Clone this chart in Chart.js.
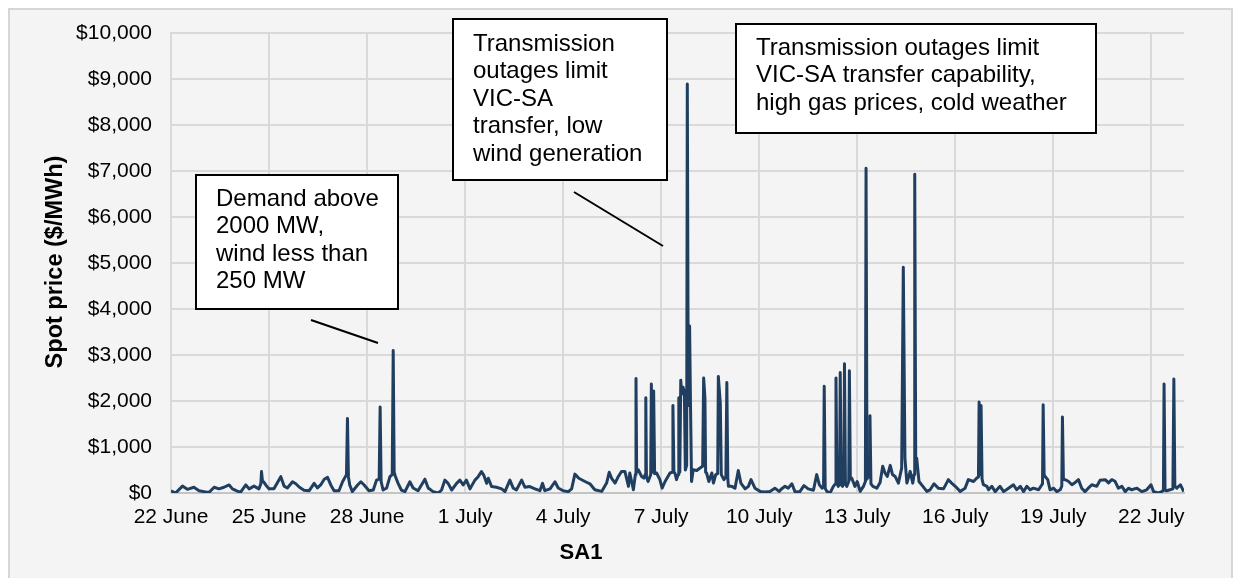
<!DOCTYPE html>
<html>
<head>
<meta charset="utf-8">
<script src="https://cdn.jsdelivr.net/npm/chart.js@4/dist/chart.umd.min.js"></script>
<style>
  html, body { margin: 0; padding: 0; background: #fff; }
  #wrap { width: 1233px; height: 578px; position: relative; }
</style>
</head>
<body>
<div id="wrap"><canvas id="c" width="1233" height="578"></canvas></div>
<script>
// days since 22 June (00:00)
const days = [
  0.00, 0.14, 0.35, 0.50, 0.70, 0.86, 1.01, 1.16, 1.32, 1.47, 1.62, 1.78, 1.88, 2.03, 2.13, 2.29, 2.39, 2.54, 2.69, 2.75,
  2.77, 2.80, 2.83, 2.90, 3.00, 3.15, 3.36, 3.46, 3.56, 3.72, 3.82, 3.92, 4.07, 4.23, 4.38, 4.48, 4.58, 4.69, 4.79, 4.89,
  4.99, 5.14, 5.25, 5.37, 5.40, 5.43, 5.47, 5.55, 5.71, 5.81, 5.91, 6.06, 6.19, 6.29, 6.37, 6.40, 6.43, 6.49, 6.60, 6.70,
  6.77, 6.80, 6.83, 6.85, 6.95, 7.05, 7.16, 7.31, 7.41, 7.56, 7.77, 7.87, 8.02, 8.18, 8.28, 8.38, 8.48, 8.59, 8.74, 8.84,
  8.94, 9.04, 9.15, 9.30, 9.40, 9.50, 9.57, 9.66, 9.71, 9.81, 9.96, 10.12, 10.22, 10.37, 10.47, 10.57, 10.73, 10.83, 10.98, 11.14,
  11.29, 11.37, 11.44, 11.60, 11.75, 11.85, 12.00, 12.16, 12.26, 12.36, 12.48, 12.67, 12.82, 12.97, 13.18, 13.33, 13.41, 13.48, 13.59, 13.69,
  13.79, 13.89, 14.00, 14.04, 14.15, 14.21, 14.23, 14.25, 14.30, 14.40, 14.47, 14.51, 14.53, 14.55, 14.60, 14.68, 14.70, 14.73, 14.77, 14.80,
  14.86, 14.96, 15.03, 15.12, 15.27, 15.34, 15.36, 15.39, 15.42, 15.47, 15.52, 15.54, 15.57, 15.60, 15.63, 15.67, 15.71, 15.74, 15.78, 15.80,
  15.83, 15.87, 15.90, 15.93, 15.98, 16.09, 16.19, 16.27, 16.30, 16.34, 16.36, 16.39, 16.46, 16.55, 16.60, 16.67, 16.73, 16.75, 16.81, 16.84,
  16.92, 16.98, 17.01, 17.04, 17.06, 17.16, 17.26, 17.36, 17.44, 17.57, 17.67, 17.75, 17.87, 18.03, 18.18, 18.33, 18.48, 18.61, 18.70, 18.79,
  18.89, 19.00, 19.10, 19.25, 19.37, 19.50, 19.66, 19.76, 19.84, 19.93, 19.97, 19.99, 20.02, 20.07, 20.17, 20.27, 20.33, 20.35, 20.38, 20.42,
  20.46, 20.48, 20.51, 20.55, 20.59, 20.61, 20.64, 20.68, 20.74, 20.76, 20.79, 20.83, 20.93, 21.00, 21.09, 21.19, 21.25, 21.27, 21.30, 21.34,
  21.37, 21.39, 21.42, 21.48, 21.60, 21.70, 21.78, 21.85, 21.92, 22.01, 22.08, 22.16, 22.26, 22.36, 22.41, 22.46, 22.52, 22.62, 22.70, 22.74,
  22.76, 22.79, 22.82, 22.89, 23.01, 23.13, 23.23, 23.35, 23.48, 23.64, 23.79, 23.89, 24.00, 24.15, 24.30, 24.40, 24.56, 24.66, 24.71, 24.73,
  24.76, 24.79, 24.82, 24.86, 24.97, 25.02, 25.12, 25.22, 25.37, 25.48, 25.63, 25.78, 25.88, 25.99, 26.09, 26.19, 26.29, 26.39, 26.55, 26.65,
  26.67, 26.69, 26.72, 26.75, 26.83, 26.90, 27.01, 27.11, 27.21, 27.26, 27.28, 27.31, 27.36, 27.46, 27.57, 27.67, 27.77, 27.87, 27.97, 28.07,
  28.18, 28.33, 28.43, 28.59, 28.69, 28.79, 28.89, 28.99, 29.10, 29.20, 29.30, 29.40, 29.56, 29.71, 29.86, 29.99, 30.07, 30.22, 30.32, 30.37,
  30.39, 30.42, 30.47, 30.57, 30.66, 30.69, 30.72, 30.78, 30.89, 30.99
];

// SA1 spot price, $/MWh
const prices = [
  45, 0, 150, 80, 125, 50, 30, 10, 125, 90, 125, 175, 90, 40, 20, 175, 90, 150, 90, 200,
  465, 250, 245, 175, 90, 90, 355, 150, 110, 245, 200, 130, 60, 50, 210, 110, 175, 300, 340, 175,
  50, 50, 245, 400, 1620, 350, 175, 30, 175, 245, 175, 50, 65, 280, 300, 1870, 250, 65, 110, 355,
  400, 3100, 420, 390, 210, 65, 30, 245, 110, 50, 300, 110, 30, 0, 65, 280, 210, 65, 210, 280,
  175, 280, 90, 280, 355, 465, 390, 210, 320, 140, 125, 90, 30, 280, 110, 65, 280, 125, 140, 90,
  50, 210, 50, 90, 245, 110, 50, 30, 90, 410, 320, 250, 200, 70, 35, 215, 450, 325, 215, 360,
  470, 470, 145, 435, 70, 400, 2490, 450, 505, 360, 325, 400, 2070, 350, 250, 400, 2370, 450, 2220, 420,
  435, 290, 105, 250, 435, 450, 1900, 450, 435, 290, 400, 2070, 450, 2450, 2150, 2300, 2200, 500, 600, 8890,
  1900, 3630, 1800, 250, 505, 490, 543, 580, 2500, 2065, 450, 435, 250, 435, 215, 400, 420, 2530, 1955, 400,
  290, 350, 2400, 300, 145, 145, 105, 490, 215, 90, 145, 290, 105, 35, 20, 35, 105, 35, 100, 145,
  105, 200, 20, 35, 160, 90, 60, 400, 180, 105, 150, 2320, 100, 35, 0, 145, 200, 2500, 200, 145,
  200, 2620, 180, 145, 200, 2810, 200, 145, 250, 2660, 300, 325, 145, 250, 35, 145, 250, 7060, 300, 400,
  350, 1680, 200, 145, 105, 230, 580, 435, 360, 600, 400, 360, 215, 540, 4910, 760, 215, 470, 215, 400,
  6930, 700, 760, 250, 145, 35, 70, 200, 105, 90, 290, 215, 145, 35, 105, 290, 250, 325, 350, 1980,
  400, 1900, 300, 180, 145, 70, 145, 30, 145, 30, 105, 180, 70, 145, 30, 145, 70, 105, 70, 180,
  200, 1920, 400, 360, 290, 70, 105, 30, 70, 150, 1650, 300, 290, 255, 180, 230, 290, 105, 30, 105,
  180, 145, 275, 290, 220, 290, 255, 105, 145, 30, 105, 70, 105, 30, 70, 180, 30, 0, 30, 60,
  2370, 60, 50, 70, 90, 2480, 150, 105, 180, 30
];

const tickDays = [0, 3, 6, 9, 12, 15, 18, 21, 24, 27, 30];
const tickLabels = ['22 June', '25 June', '28 June', '1 July', '4 July', '7 July', '10 July', '13 July', '16 July', '19 July', '22 July'];

const notes = [
  { box: [196, 175, 202, 134], lines: ['Demand above', '2000 MW,', 'wind less than', '250 MW'], tx: 216, ty: 199, lead: [311, 320, 378, 343] },
  { box: [453, 19, 214, 161], lines: ['Transmission', 'outages limit', 'VIC-SA', 'transfer, low', 'wind generation'], tx: 473, ty: 44, lead: [574, 192, 663, 246] },
  { box: [736, 24, 360, 109], lines: ['Transmission outages limit', 'VIC-SA transfer capability,', 'high gas prices, cold weather'], tx: 756, ty: 48, lead: null }
];

Chart.defaults.font.family = '"Liberation Sans", Arial, sans-serif';
Chart.defaults.color = '#000';

const frame = {
  id: 'frame',
  beforeDraw(chart) {
    const ctx = chart.ctx;
    ctx.save();
    ctx.fillStyle = '#fff';
    ctx.fillRect(0, 0, chart.width, chart.height);
    ctx.fillStyle = '#f5f4f4';
    ctx.fillRect(10, 10, 1221, 600);
    ctx.strokeStyle = '#d6d6d6';
    ctx.lineWidth = 2;
    ctx.strokeRect(9, 9, 1223, 620);
    ctx.restore();
  },
  afterDraw(chart) {
    const ctx = chart.ctx;
    ctx.save();
    // axis titles
    ctx.fillStyle = '#000';
    ctx.font = 'bold 22px "Liberation Sans", Arial, sans-serif';
    ctx.textAlign = 'center';
    ctx.textBaseline = 'middle';
    ctx.fillText('SA1', 581, 553);
    ctx.font = 'bold 23.5px "Liberation Sans", Arial, sans-serif';
    ctx.translate(56, 262);
    ctx.rotate(-Math.PI / 2);
    ctx.fillText('Spot price ($/MWh)', 0, 0);
    ctx.restore();

    // callouts
    ctx.save();
    ctx.font = '24px "Liberation Sans", Arial, sans-serif';
    ctx.textBaseline = 'middle';
    ctx.textAlign = 'left';
    notes.forEach(n => {
      const [x, y, w, h] = n.box;
      ctx.fillStyle = '#fff';
      ctx.fillRect(x, y, w, h);
      ctx.strokeStyle = '#000';
      ctx.lineWidth = 2;
      ctx.strokeRect(x, y, w, h);
      ctx.fillStyle = '#000';
      n.lines.forEach((t, i) => ctx.fillText(t, n.tx, n.ty + i * 27.6));
      if (n.lead) {
        ctx.beginPath();
        ctx.moveTo(n.lead[0], n.lead[1]);
        ctx.lineTo(n.lead[2], n.lead[3]);
        ctx.stroke();
      }
    });
    ctx.restore();
  }
};

new Chart(document.getElementById('c'), {
  type: 'line',
  data: {
    datasets: [{
      data: days.map((d, i) => ({ x: d, y: prices[i] })),
      borderColor: '#203f60',
      borderWidth: 3,
      borderJoinStyle: 'round',
      pointRadius: 0,
      tension: 0,
      fill: false
    }]
  },
  options: {
    responsive: false,
    animation: false,
    layout: { padding: { top: 33, right: 49, bottom: 0, left: 0 } },
    plugins: { legend: { display: false }, tooltip: { enabled: false } },
    scales: {
      x: {
        type: 'linear',
        min: 0,
        max: 31,
        afterBuildTicks: s => { s.ticks = tickDays.map(v => ({ value: v })); },
        afterFit: s => { s.height = 85; },
        ticks: {
          callback: v => tickLabels[tickDays.indexOf(v)],
          font: { size: 21 },
          padding: 12,
          maxRotation: 0,
          autoSkip: false
        },
        grid: { color: '#d9d9d9', lineWidth: 2, drawTicks: false },
        border: { color: '#c4c4c4', width: 2 }
      },
      y: {
        min: 0,
        max: 10000,
        afterFit: s => { s.width = 171; },
        ticks: {
          stepSize: 1000,
          callback: v => '$' + v.toLocaleString('en-US'),
          font: { size: 21 },
          padding: 19
        },
        grid: { color: '#d9d9d9', lineWidth: 2, drawTicks: false },
        border: { color: '#d9d9d9', width: 2 }
      }
    }
  },
  plugins: [frame]
});
</script>
</body>
</html>
